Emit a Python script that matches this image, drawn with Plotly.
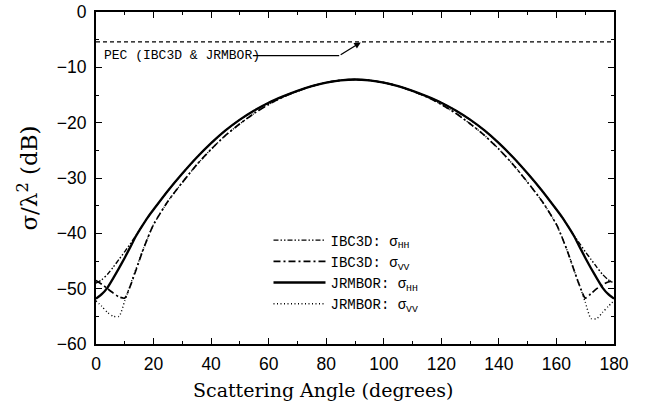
import plotly.graph_objects as go

angles = [0, 2, 4, 6, 8, 10, 12, 14, 16, 18, 20, 25, 30, 35, 40, 45, 50, 55, 60, 65, 70, 75, 80, 85, 90,
          95, 100, 105, 110, 115, 120, 125, 130, 135, 140, 145, 150, 155, 160, 162, 164, 166, 168, 170,
          172, 174, 176, 178, 180]

ibc3d_hh = [-49.0, -48.4, -47.4, -46.1, -44.7, -43.3, -41.8, -40.3, -38.7, -37.1, -35.7, -32.3, -29.2,
            -26.3, -23.7, -21.4, -19.45, -17.8, -16.4, -15.25, -14.25, -13.4, -12.75, -12.35, -12.2,
            -12.35, -12.75, -13.4, -14.25, -15.25, -16.4, -17.8, -19.45, -21.4, -23.7, -26.3, -29.2, -32.3,
            -35.7, -37.1, -38.7, -40.3, -41.8, -43.3, -44.7, -46.1, -47.4, -48.4, -49.0]

ibc3d_vv = [-48.5, -49.2, -50.0, -50.8, -51.5, -51.7, -49.4, -46.5, -43.5, -40.8, -38.4, -34.2, -30.8,
            -27.6, -24.8, -22.3, -20.2, -18.3, -16.7, -15.35, -14.3, -13.4, -12.75, -12.35, -12.2,
            -12.35, -12.75, -13.4, -14.3, -15.35, -16.7, -18.3, -20.2, -22.3, -24.8, -27.6, -30.8, -34.2,
            -38.4, -40.8, -43.5, -46.5, -49.4, -51.7, -50.9, -50.0, -49.3, -48.8, -48.5]

jrmbor_hh = [-51.8, -51.0, -49.8, -48.1, -46.3, -44.4, -42.4, -40.4, -38.7, -37.1, -35.7, -32.3, -29.2,
             -26.3, -23.7, -21.4, -19.45, -17.8, -16.4, -15.25, -14.25, -13.4, -12.75, -12.35, -12.2,
             -12.35, -12.75, -13.4, -14.25, -15.25, -16.4, -17.8, -19.45, -21.4, -23.7, -26.3, -29.2, -32.3,
             -35.7, -37.1, -38.7, -40.4, -42.4, -44.4, -46.3, -48.1, -49.8, -51.0, -51.8]

jrmbor_vv = [-52.2, -53.2, -54.3, -55.0, -55.0, -52.2, -49.2, -46.3, -43.4, -40.8, -38.4, -34.2, -30.8,
             -27.6, -24.8, -22.3, -20.2, -18.3, -16.7, -15.35, -14.3, -13.4, -12.75, -12.35, -12.2,
             -12.35, -12.75, -13.4, -14.3, -15.35, -16.7, -18.3, -20.2, -22.3, -24.8, -27.6, -30.8, -34.2,
             -38.4, -40.8, -43.5, -46.5, -49.4, -52.4, -55.4, -55.4, -54.3, -53.2, -52.2]

pec_angles = [0, 180]
pec_values = [-5.4, -5.4]

x_ticks = [0, 20, 40, 60, 80, 100, 120, 140, 160, 180]
y_ticks = [0, -10, -20, -30, -40, -50, -60]

series = [
    ("IBC3D: σ<sub>HH</sub>", ibc3d_hh, "5px,2px,1.5px,2px,1.5px,2px", 1.4),
    ("IBC3D: σ<sub>VV</sub>", ibc3d_vv, "7px,3px,2px,3px", 1.7),
    ("JRMBOR: σ<sub>HH</sub>", jrmbor_hh, "solid", 2.3),
    ("JRMBOR: σ<sub>VV</sub>", jrmbor_vv, "1px,2.5px", 1.4),
]

fig = go.Figure()
fig.add_trace(go.Scatter(x=pec_angles, y=pec_values, mode="lines", showlegend=False,
                         line=dict(color="black", width=1.4, dash="4px,3px")))
for name, vals, dash, w in series:
    fig.add_trace(go.Scatter(x=angles, y=vals, mode="lines", name=name,
                             line=dict(color="black", width=w, dash=dash, shape="spline", smoothing=0.6)))

tick_font = dict(family="Liberation Sans", size=17.5, color="black")
fig.update_layout(
    width=646, height=407,
    margin=dict(l=96, r=32, t=12, b=63, autoexpand=False),
    paper_bgcolor="white", plot_bgcolor="white",
    showlegend=True,
    legend=dict(x=0.333, y=0.36, xanchor="left", yanchor="top",
                bgcolor="rgba(0,0,0,0)", borderwidth=0,
                font=dict(family="Liberation Mono", size=14, color="black"),
                tracegroupgap=0, itemwidth=52),
    xaxis=dict(range=[0, 180], tickvals=x_ticks, ticks="inside", ticklen=6, tickwidth=1.2,
               tickcolor="black", showline=True, linecolor="black", linewidth=2, mirror="ticks",
               showgrid=False, zeroline=False, tickfont=tick_font, ticklabelstandoff=3,
               automargin=False,
               minor=dict(dtick=10, ticks="inside", ticklen=3, tickcolor="black", showgrid=False)),
    yaxis=dict(range=[-60, 0], tickvals=y_ticks, ticks="inside", ticklen=6, tickwidth=1.2,
               tickcolor="black", showline=True, linecolor="black", linewidth=2, mirror="ticks",
               showgrid=False, zeroline=False, tickfont=tick_font, ticklabelstandoff=4,
               automargin=False,
               minor=dict(dtick=5, ticks="inside", ticklen=3, tickcolor="black", showgrid=False)),
)

# axis titles
fig.add_annotation(text="Scattering Angle (degrees)", xref="paper", yref="paper", x=0.438, y=-0.14,
                   xanchor="center", yanchor="middle", showarrow=False,
                   font=dict(family="DejaVu Serif", size=19, color="black"))
fig.add_annotation(text="σ/λ<sup>2</sup> (dB)", xref="paper", yref="paper", x=-0.132, y=0.5,
                   xanchor="center", yanchor="middle", showarrow=False, textangle=-90,
                   font=dict(family="DejaVu Serif", size=23, color="black"))

# PEC label with bent leader and arrow
fig.add_annotation(text="PEC (IBC3D & JRMBOR)", x=2.2, y=-7.8, xanchor="left", yanchor="middle",
                   showarrow=False, font=dict(family="Liberation Mono", size=13, color="black"))
fig.add_shape(type="line", x0=54.5, y0=-7.9, x1=84.5, y1=-7.9, line=dict(color="black", width=1.2))
fig.add_annotation(x=92, y=-5.5, ax=84.5, ay=-7.9, axref="x", ayref="y", text="", showarrow=True,
                   arrowhead=2, arrowsize=1, arrowwidth=1.3, arrowcolor="black")

fig.write_html("out.html")
